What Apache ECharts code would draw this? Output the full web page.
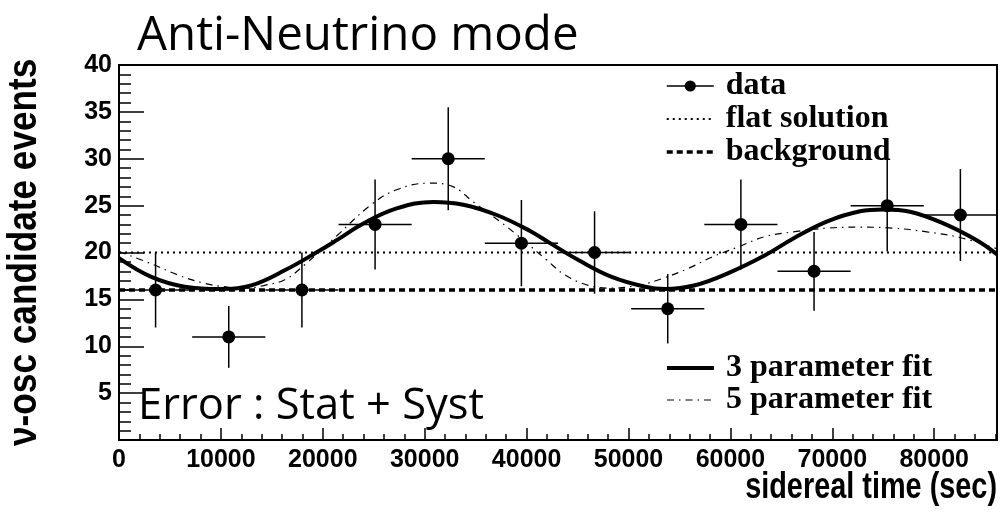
<!DOCTYPE html>
<html>
<head>
<meta charset="utf-8">
<script src="https://cdn.jsdelivr.net/npm/echarts@6/dist/echarts.min.js"></script>
<style>
  html, body { margin: 0; padding: 0; background: #fff; }
  #chart { width: 1003px; height: 512px; }
</style>
</head>
<body>
<div id="chart"></div>
<script>
// Sidereal-time bins (seconds) and event counts per bin
const binCenters = [3590, 10770, 17950, 25130, 32310, 39490, 46670, 53850, 61030, 68210, 75390, 82570];
const binHalfWidths = [3590, 3590, 3590, 3590, 3590, 3590, 3590, 3590, 3590, 3590, 3590, 3590];
const events = [16, 11, 16, 23, 30, 21, 20, 14, 23, 18, 25, 24];
const eventErrors = [4.0, 3.3, 4.0, 4.8, 5.5, 4.6, 4.4, 3.7, 4.8, 4.2, 4.9, 4.9];

// Reference levels
const flatSolution = 20;
const backgroundLevel = 16;
const siderealDay = 86164;

// 3 parameter fit curve
const fit3Time = [0, 3170, 6450, 10040, 12990, 16260, 19530, 21490, 23980, 27250, 30850, 33790, 37070, 40340, 42300,
  45080, 48350, 51620, 53590, 56530, 59800, 63400, 66180, 69450, 72720, 75010, 77630, 80900, 84170, 86164];
const fit3Events = [19.4, 17.4, 16.35, 16.1, 16.5, 18.1, 20.1, 21.4, 23.1, 24.7, 25.4, 25.1, 24.0, 22.3, 21.0,
  19.2, 17.4, 16.35, 16.1, 16.5, 17.8, 19.7, 21.5, 23.3, 24.4, 24.6, 24.35, 23.1, 21.3, 19.8];

// 5 parameter fit curve
const fit5Time = [0, 3170, 5790, 8410, 10700, 12500, 14300, 16260, 18220, 21490, 24630, 27250, 30520, 32810, 34770,
  37390, 39030, 41970, 43770, 46060, 48350, 50960, 53260, 55870, 58160, 60780, 63400, 66180, 69450, 72720,
  75990, 79270, 82540, 86164];
const fit5Events = [20.1, 18.8, 17.6, 16.7, 16.3, 16.2, 16.5, 17.1, 18.7, 21.9, 25.0, 26.7, 27.4, 27.0, 25.4,
  23.3, 21.9, 19.2, 17.6, 16.5, 16.2, 16.5, 17.2, 18.3, 19.5, 20.6, 21.7, 22.2, 22.6, 22.7,
  22.6, 22.2, 21.6, 20.4];

// Axis ticks
const xTickStep = 10000;
const yTickStep = 5;

const sansBold = "'Liberation Sans', Arial, Helvetica, sans-serif";
const serifBold = "'Liberation Serif', 'Times New Roman', serif";
const humanist = "'Open Sans', Lato, sans-serif";

const chart = echarts.init(document.getElementById('chart'), null, { renderer: 'canvas' });

const legendText = {
  fontFamily: serifBold, fontWeight: 'bold', fontSize: 32, color: '#000', padding: [0, 0, 0, 7]
};
// line-only legend icons (no marker)
const noMarker = { color: 'rgba(0,0,0,0)', borderWidth: 0 };

const option = {
  backgroundColor: '#fff',
  animation: false,
  grid: {
    left: 119, right: 6, top: 65, bottom: 72,
    show: true, borderColor: '#000', borderWidth: 2, backgroundColor: 'transparent'
  },
  xAxis: {
    type: 'value', min: 0, max: siderealDay, interval: xTickStep,
    axisLine: { show: true, onZero: false, lineStyle: { color: '#000', width: 2 } },
    axisTick: { show: true, inside: true, length: 12, lineStyle: { color: '#000', width: 1.5 } },
    minorTick: { show: true, splitNumber: 5, length: 6, lineStyle: { color: '#000', width: 1.5 } },
    splitLine: { show: false },
    axisLabel: {
      showMaxLabel: false, margin: 8,
      fontFamily: sansBold, fontWeight: 'bold', fontSize: 25, color: '#000',
      formatter: v => (v % xTickStep === 0 ? String(v) : '')
    }
  },
  yAxis: {
    type: 'value', min: 0, max: 40, interval: yTickStep,
    axisLine: { show: true, onZero: false, lineStyle: { color: '#000', width: 2 } },
    axisTick: { show: true, inside: true, length: 25, lineStyle: { color: '#000', width: 1.5 } },
    minorTick: { show: true, splitNumber: 5, length: 12, lineStyle: { color: '#000', width: 1.5 } },
    splitLine: { show: false },
    axisLabel: {
      margin: 7,
      fontFamily: sansBold, fontWeight: 'bold', fontSize: 25, color: '#000',
      formatter: v => (v === 0 ? '' : String(v))
    }
  },
  legend: [
    {
      data: [
        { name: 'data', lineStyle: { opacity: 1, width: 1.5 } },
        { name: 'flat solution', itemStyle: noMarker, lineStyle: { width: 2 } },
        { name: 'background', itemStyle: noMarker, lineStyle: { width: 3.5 } }
      ],
      orient: 'vertical', left: 660, top: 65,
      itemWidth: 47, itemHeight: 14, itemGap: 1,
      selectedMode: false, textStyle: legendText
    },
    {
      data: [
        { name: '3 parameter fit', itemStyle: noMarker, lineStyle: { width: 4 } },
        { name: '5 parameter fit', itemStyle: noMarker, lineStyle: { width: 1.2 } }
      ],
      orient: 'vertical', left: 660, top: 347,
      itemWidth: 47, itemHeight: 14, itemGap: 0,
      selectedMode: false, textStyle: legendText
    }
  ],
  graphic: [
    {
      type: 'text', left: 137, top: 12,
      style: { text: 'Anti-Neutrino mode', fontFamily: humanist, fontSize: 47.5, fill: '#000' }
    },
    {
      type: 'text', left: 138, top: 385,
      style: { text: 'Error : Stat + Syst', fontFamily: humanist, fontSize: 43.5, fill: '#000' }
    },
    {
      type: 'text', x: 997, y: 488, scaleX: 0.78,
      style: {
        text: 'sidereal time (sec)', fontFamily: sansBold, fontWeight: 'bold', fontSize: 37, fill: '#000',
        align: 'right', verticalAlign: 'middle'
      }
    },
    {
      type: 'text', x: 25, y: 446, rotation: Math.PI / 2, scaleX: 0.88,
      style: {
        text: 'ν-osc candidate events', fontFamily: sansBold, fontWeight: 'bold', fontSize: 40, fill: '#000',
        align: 'left', verticalAlign: 'middle'
      }
    }
  ],
  series: [
    {
      name: 'flat solution', type: 'line', symbol: 'none', silent: true,
      data: [[0, flatSolution], [siderealDay, flatSolution]],
      lineStyle: { color: '#000', width: 2, type: [2, 4] }, itemStyle: { color: '#000' }, z: 2
    },
    {
      name: 'background', type: 'line', symbol: 'none', silent: true,
      data: [[0, backgroundLevel], [siderealDay, backgroundLevel]],
      lineStyle: { color: '#000', width: 3.5, type: [6, 4] }, itemStyle: { color: '#000' }, z: 2
    },
    {
      name: 'errors', type: 'custom', silent: true, z: 3,
      data: binCenters.map((t, i) => [t, events[i], binHalfWidths[i], eventErrors[i]]),
      encode: { x: 0, y: 1 },
      renderItem: function (params, api) {
        const t = api.value(0), n = api.value(1), dt = api.value(2), dn = api.value(3);
        const l = api.coord([t - dt, n]), r = api.coord([t + dt, n]);
        const top = api.coord([t, n + dn]), bot = api.coord([t, n - dn]);
        const s = { stroke: '#000', lineWidth: 1.5 };
        return {
          type: 'group',
          children: [
            { type: 'line', shape: { x1: l[0], y1: l[1], x2: r[0], y2: r[1] }, style: s },
            { type: 'line', shape: { x1: top[0], y1: top[1], x2: bot[0], y2: bot[1] }, style: s }
          ]
        };
      }
    },
    {
      name: 'data', type: 'line', symbol: 'circle', symbolSize: 13, showSymbol: true,
      data: binCenters.map((t, i) => [t, events[i]]),
      lineStyle: { color: '#000', width: 1.5, opacity: 0 }, itemStyle: { color: '#000' }, z: 4
    },
    {
      name: '3 parameter fit', type: 'line', symbol: 'none', smooth: 0.4,
      data: fit3Time.map((t, i) => [t, fit3Events[i]]),
      lineStyle: { color: '#000', width: 4 }, itemStyle: { color: '#000' }, z: 5
    },
    {
      name: '5 parameter fit', type: 'line', symbol: 'none', smooth: 0.4,
      data: fit5Time.map((t, i) => [t, fit5Events[i]]),
      lineStyle: { color: '#000', width: 1.2, type: [7, 5, 1.5, 5] }, itemStyle: { color: '#000' }, z: 5
    }
  ]
};

chart.setOption(option);
</script>
</body>
</html>
